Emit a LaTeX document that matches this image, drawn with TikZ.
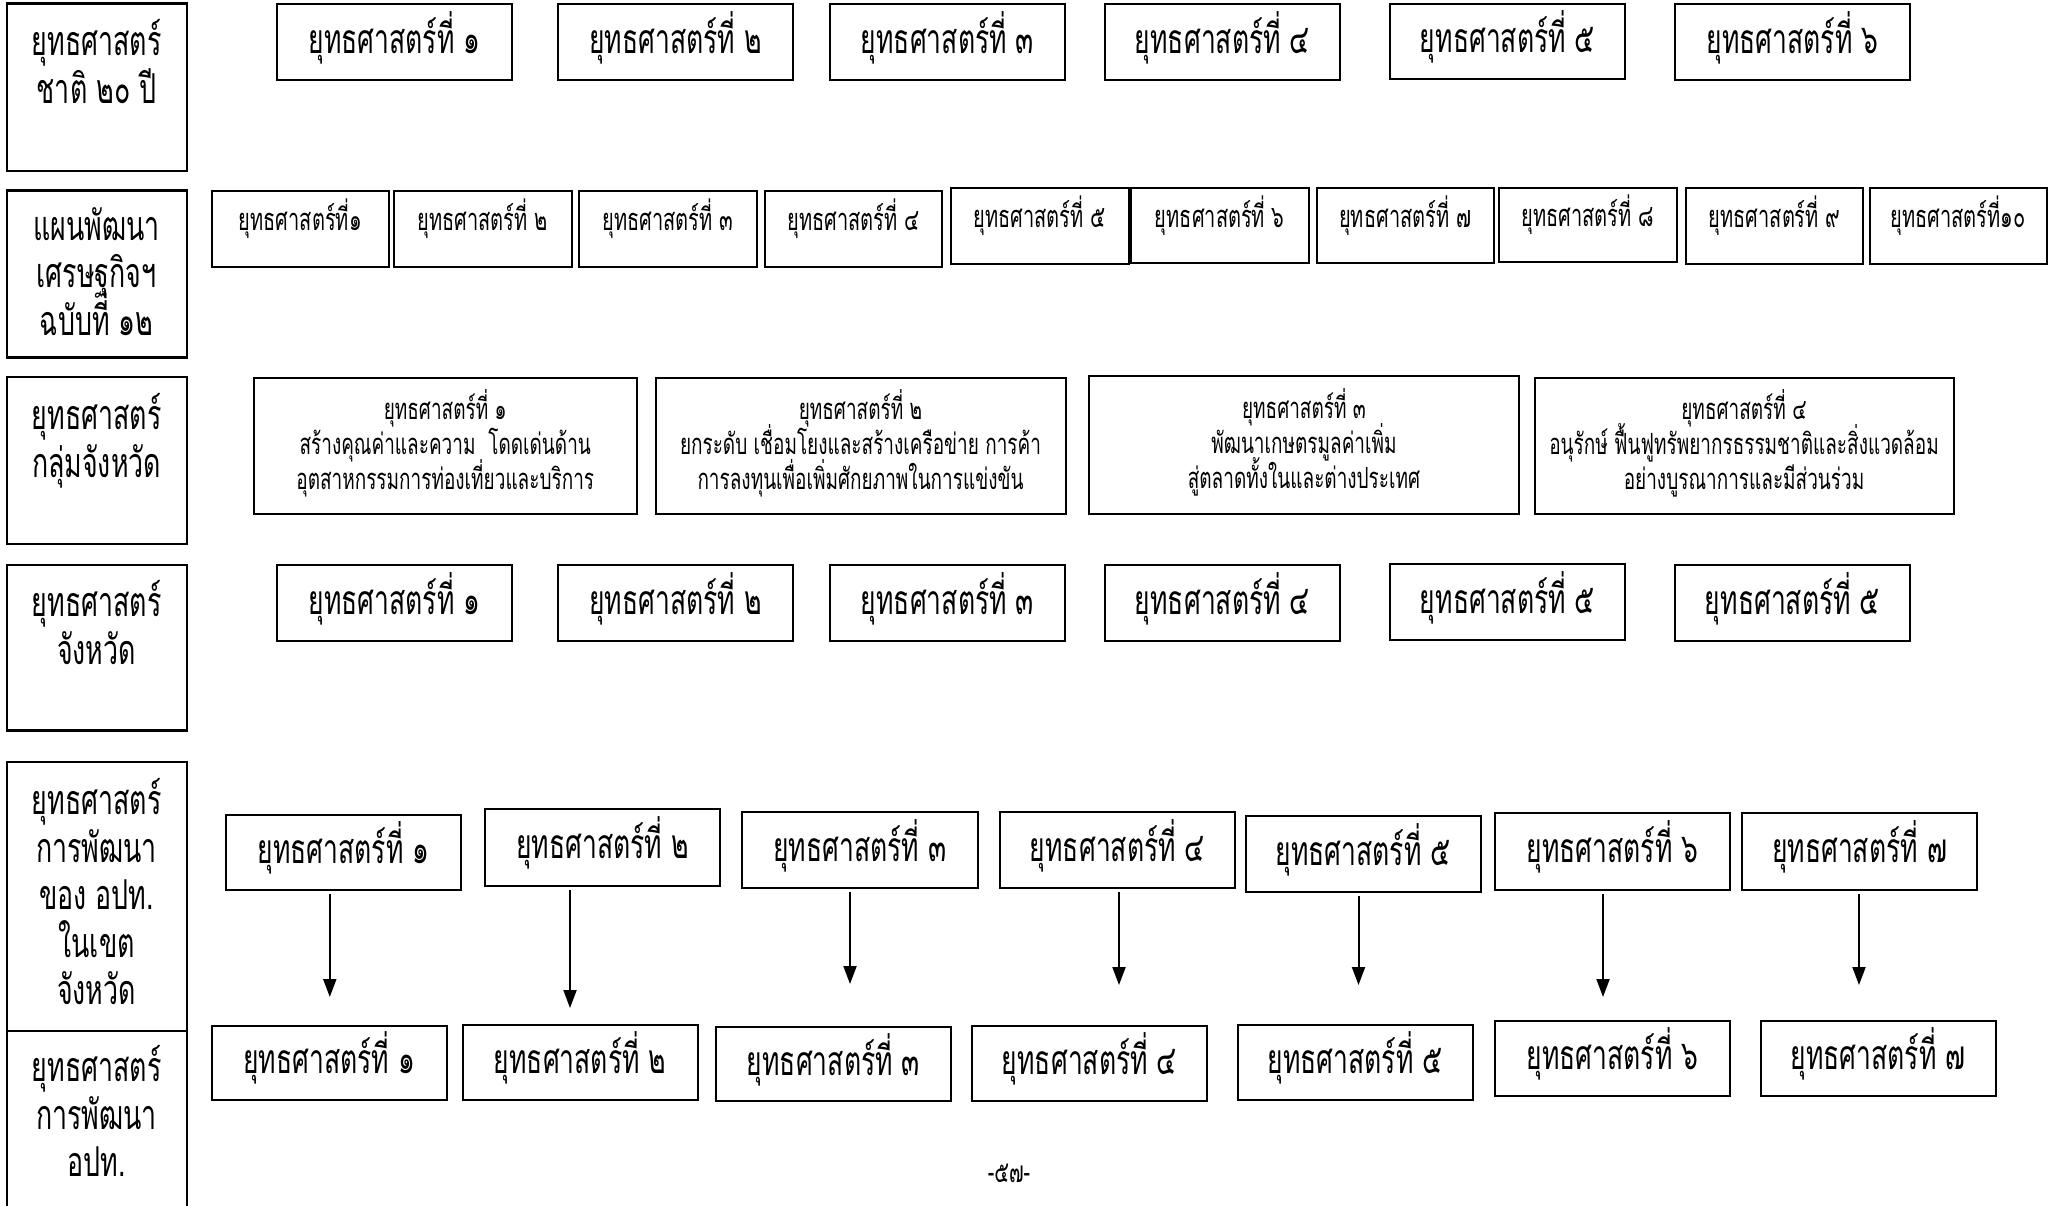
\documentclass[tikz,border=0pt]{standalone}
\usepackage{fontspec}
\setmainfont[Script=Thai,FakeStretch=0.65]{Loma}
\usetikzlibrary{arrows.meta}
\newcommand\fbig{\fontsize{20.4}{24}\selectfont\lineskiplimit=-100pt}
\newcommand\fsmall{\fontsize{15.4}{17.5}\selectfont\lineskiplimit=-100pt}
\newcommand\fmid{\fontsize{14.6}{17.5}\selectfont\lineskiplimit=-100pt}
\newcommand\fleft{\fontsize{20.6}{23.75}\selectfont\lineskiplimit=-100pt}
\newcommand\dstrut{\rule[-6.5pt]{0pt}{0pt}}
\tikzset{
  basebox/.style={draw, line width=1pt, inner sep=0pt, align=center},
  box/.style={basebox, font=\fbig, text height=11pt, text depth=0pt},
  sbox/.style={basebox, font=\fsmall, text height=1.5pt, text depth=0pt},
  mbox/.style={basebox, font=\fmid},
  lbox/.style={draw, line width=1.1pt, inner sep=0pt},
  ltext/.style={anchor=north, inner sep=0pt, align=center, font=\fleft},
  arr/.style={line width=1pt, -{Triangle[width=6.5pt,length=9pt]}, shorten <=1.5pt},
}
% \bx[style]{name}{x1}{y1}{x2}{y2}{text}
\newcommand\bx[7][box]{\node[#1, minimum width={(#5-#3)*0.5pt}, minimum height={(#6-#4)*0.5pt}] (#2) at ({(#3+#5)/2},{(#4+#6)/2}) {#7};}
\newcommand\lb[5]{\node[lbox, minimum width={(186.6-6.6)*0.5pt}, minimum height={(#4-#3)*0.5pt}] (#1) at (96.6,{(#3+#4)/2}) {};
  \node[ltext] (#1t) at (96.6,#2) {#5};}
\begin{document}
\begin{tikzpicture}[x=0.5pt,y=-0.5pt]
\useasboundingbox[fill=white] (0,0) rectangle (2060,1205);
% left column
\lb{LA}{19}{3.5}{170.8}{ยุทธศาสตร์\\ชาติ ๒๐ ปี}
\lb{LB}{207}{190.5}{357.4}{แผนพัฒนา\\เศรษฐกิจฯ\\ฉบับที่ ๑๒}
\lb{LC}{393}{377}{544}{ยุทธศาสตร์\\กลุ่มจังหวัด}
\lb{LD}{580}{565}{730.5}{ยุทธศาสตร์\\จังหวัด}
\lb{LE}{778}{762}{1031}{ยุทธศาสตร์\\การพัฒนา\\ของ อปท.\\ในเขต\\จังหวัด}
\lb{LF}{1045}{1031}{1230}{ยุทธศาสตร์\\การพัฒนา\\อปท.}
% row 1
\bx{a1}{277}{3.9}{512}{80.1}{ยุทธศาสตร์ที่ ๑}
\bx{a2}{558}{3.9}{793}{80.1}{ยุทธศาสตร์ที่ ๒}
\bx{a3}{830}{3.9}{1065}{80.1}{ยุทธศาสตร์ที่ ๓}
\bx{a4}{1105}{3.9}{1340}{80.1}{ยุทธศาสตร์ที่ ๔}
\bx{a5}{1390}{3.9}{1625}{79}{ยุทธศาสตร์ที่ ๕}
\bx{a6}{1675}{3.9}{1910}{80.1}{ยุทธศาสตร์ที่ ๖}
% row 2
\bx[sbox]{b1}{211.5}{190.5}{389}{266.7}{ยุทธศาสตร์ที่๑}
\bx[sbox]{b2}{394}{190.5}{571.5}{266.7}{ยุทธศาสตร์ที่ ๒}
\bx[sbox]{b3}{579}{190.5}{757}{266.7}{ยุทธศาสตร์ที่ ๓}
\bx[sbox]{b4}{765}{190.5}{942}{266.7}{ยุทธศาสตร์ที่ ๔}
\bx[sbox]{b5}{951}{188}{1128.5}{264}{ยุทธศาสตร์ที่ ๕}
\bx[sbox]{b6}{1131}{188}{1308.5}{263}{ยุทธศาสตร์ที่ ๖}
\bx[sbox]{b7}{1316.5}{188}{1494}{263}{ยุทธศาสตร์ที่ ๗}
\bx[sbox]{b8}{1499}{188}{1676.5}{262}{ยุทธศาสตร์ที่ ๘}
\bx[sbox]{b9}{1686}{188}{1863}{264}{ยุทธศาสตร์ที่ ๙}
\bx[sbox]{b10}{1869.5}{188}{2047}{264}{ยุทธศาสตร์ที่๑๐}
% row 3
\bx[mbox]{c1}{253.5}{378}{637}{514}{ยุทธศาสตร์ที่ ๑\\สร้างคุณค่าและความ\ \ โดดเด่นด้าน\\อุตสาหกรรมการท่องเที่ยวและบริการ\dstrut}
\bx[mbox]{c2}{655.5}{378}{1065.5}{514}{ยุทธศาสตร์ที่ ๒\\ยกระดับ เชื่อมโยงและสร้างเครือข่าย การค้า\\การลงทุนเพื่อเพิ่มศักยภาพในการแข่งขัน\dstrut}
\bx[mbox]{c3}{1089}{376}{1519}{514}{ยุทธศาสตร์ที่ ๓\\พัฒนาเกษตรมูลค่าเพิ่ม\\สู่ตลาดทั้งในและต่างประเทศ\dstrut}
\bx[mbox]{c4}{1534.5}{378}{1953.5}{514}{ยุทธศาสตร์ที่ ๔\\อนุรักษ์ ฟื้นฟูทรัพยากรธรรมชาติและสิ่งแวดล้อม\\อย่างบูรณาการและมีส่วนร่วม\dstrut}
% row 4
\bx{d1}{277}{565}{512}{641}{ยุทธศาสตร์ที่ ๑}
\bx{d2}{558}{565}{793}{641}{ยุทธศาสตร์ที่ ๒}
\bx{d3}{830}{565}{1065}{641}{ยุทธศาสตร์ที่ ๓}
\bx{d4}{1105}{565}{1340}{641}{ยุทธศาสตร์ที่ ๔}
\bx{d5}{1390}{564}{1625}{640}{ยุทธศาสตร์ที่ ๕}
\bx{d6}{1675}{565}{1910}{641}{ยุทธศาสตร์ที่ ๕}
% row 5
\bx{e1}{226}{814.5}{461}{889.5}{ยุทธศาสตร์ที่ ๑}
\bx{e2}{485}{809}{720}{885.5}{ยุทธศาสตร์ที่ ๒}
\bx{e3}{742}{812}{977.5}{888}{ยุทธศาสตร์ที่ ๓}
\bx{e4}{1000}{812}{1235}{888}{ยุทธศาสตร์ที่ ๔}
\bx{e5}{1245.5}{816}{1480.5}{892}{ยุทธศาสตร์ที่ ๕}
\bx{e6}{1495}{813}{1730}{889.5}{ยุทธศาสตร์ที่ ๖}
\bx{e7}{1742}{813}{1977}{889.5}{ยุทธศาสตร์ที่ ๗}
% row 6
\bx{f1}{211.5}{1026}{446.7}{1099.6}{ยุทธศาสตร์ที่ ๑}
\bx{f2}{462.5}{1025}{697.6}{1099.6}{ยุทธศาสตร์ที่ ๒}
\bx{f3}{716}{1027.4}{951}{1101}{ยุทธศาสตร์ที่ ๓}
\bx{f4}{972}{1026}{1207}{1101}{ยุทธศาสตร์ที่ ๔}
\bx{f5}{1237.6}{1025}{1472.7}{1099.6}{ยุทธศาสตร์ที่ ๕}
\bx{f6}{1495}{1021}{1730}{1096}{ยุทธศาสตร์ที่ ๖}
\bx{f7}{1760.5}{1021}{1995.6}{1096}{ยุทธศาสตร์ที่ ๗}
% arrows
\coordinate (g1) at (329.8,997);
\coordinate (g2) at (570,1008);
\coordinate (g3) at (850,984);
\coordinate (g4) at (1119,985);
\coordinate (g5) at (1358.5,985);
\coordinate (g6) at (1603,997);
\coordinate (g7) at (1859,985);
\foreach \i in {1,...,7}{\draw[arr] (e\i.south -| g\i) -- (g\i);}
% page number
\node[inner sep=0pt, font=\fontsize{15}{18}\selectfont] (pg) at (1009,1173) {-๕๗-};
\end{tikzpicture}
\end{document}
